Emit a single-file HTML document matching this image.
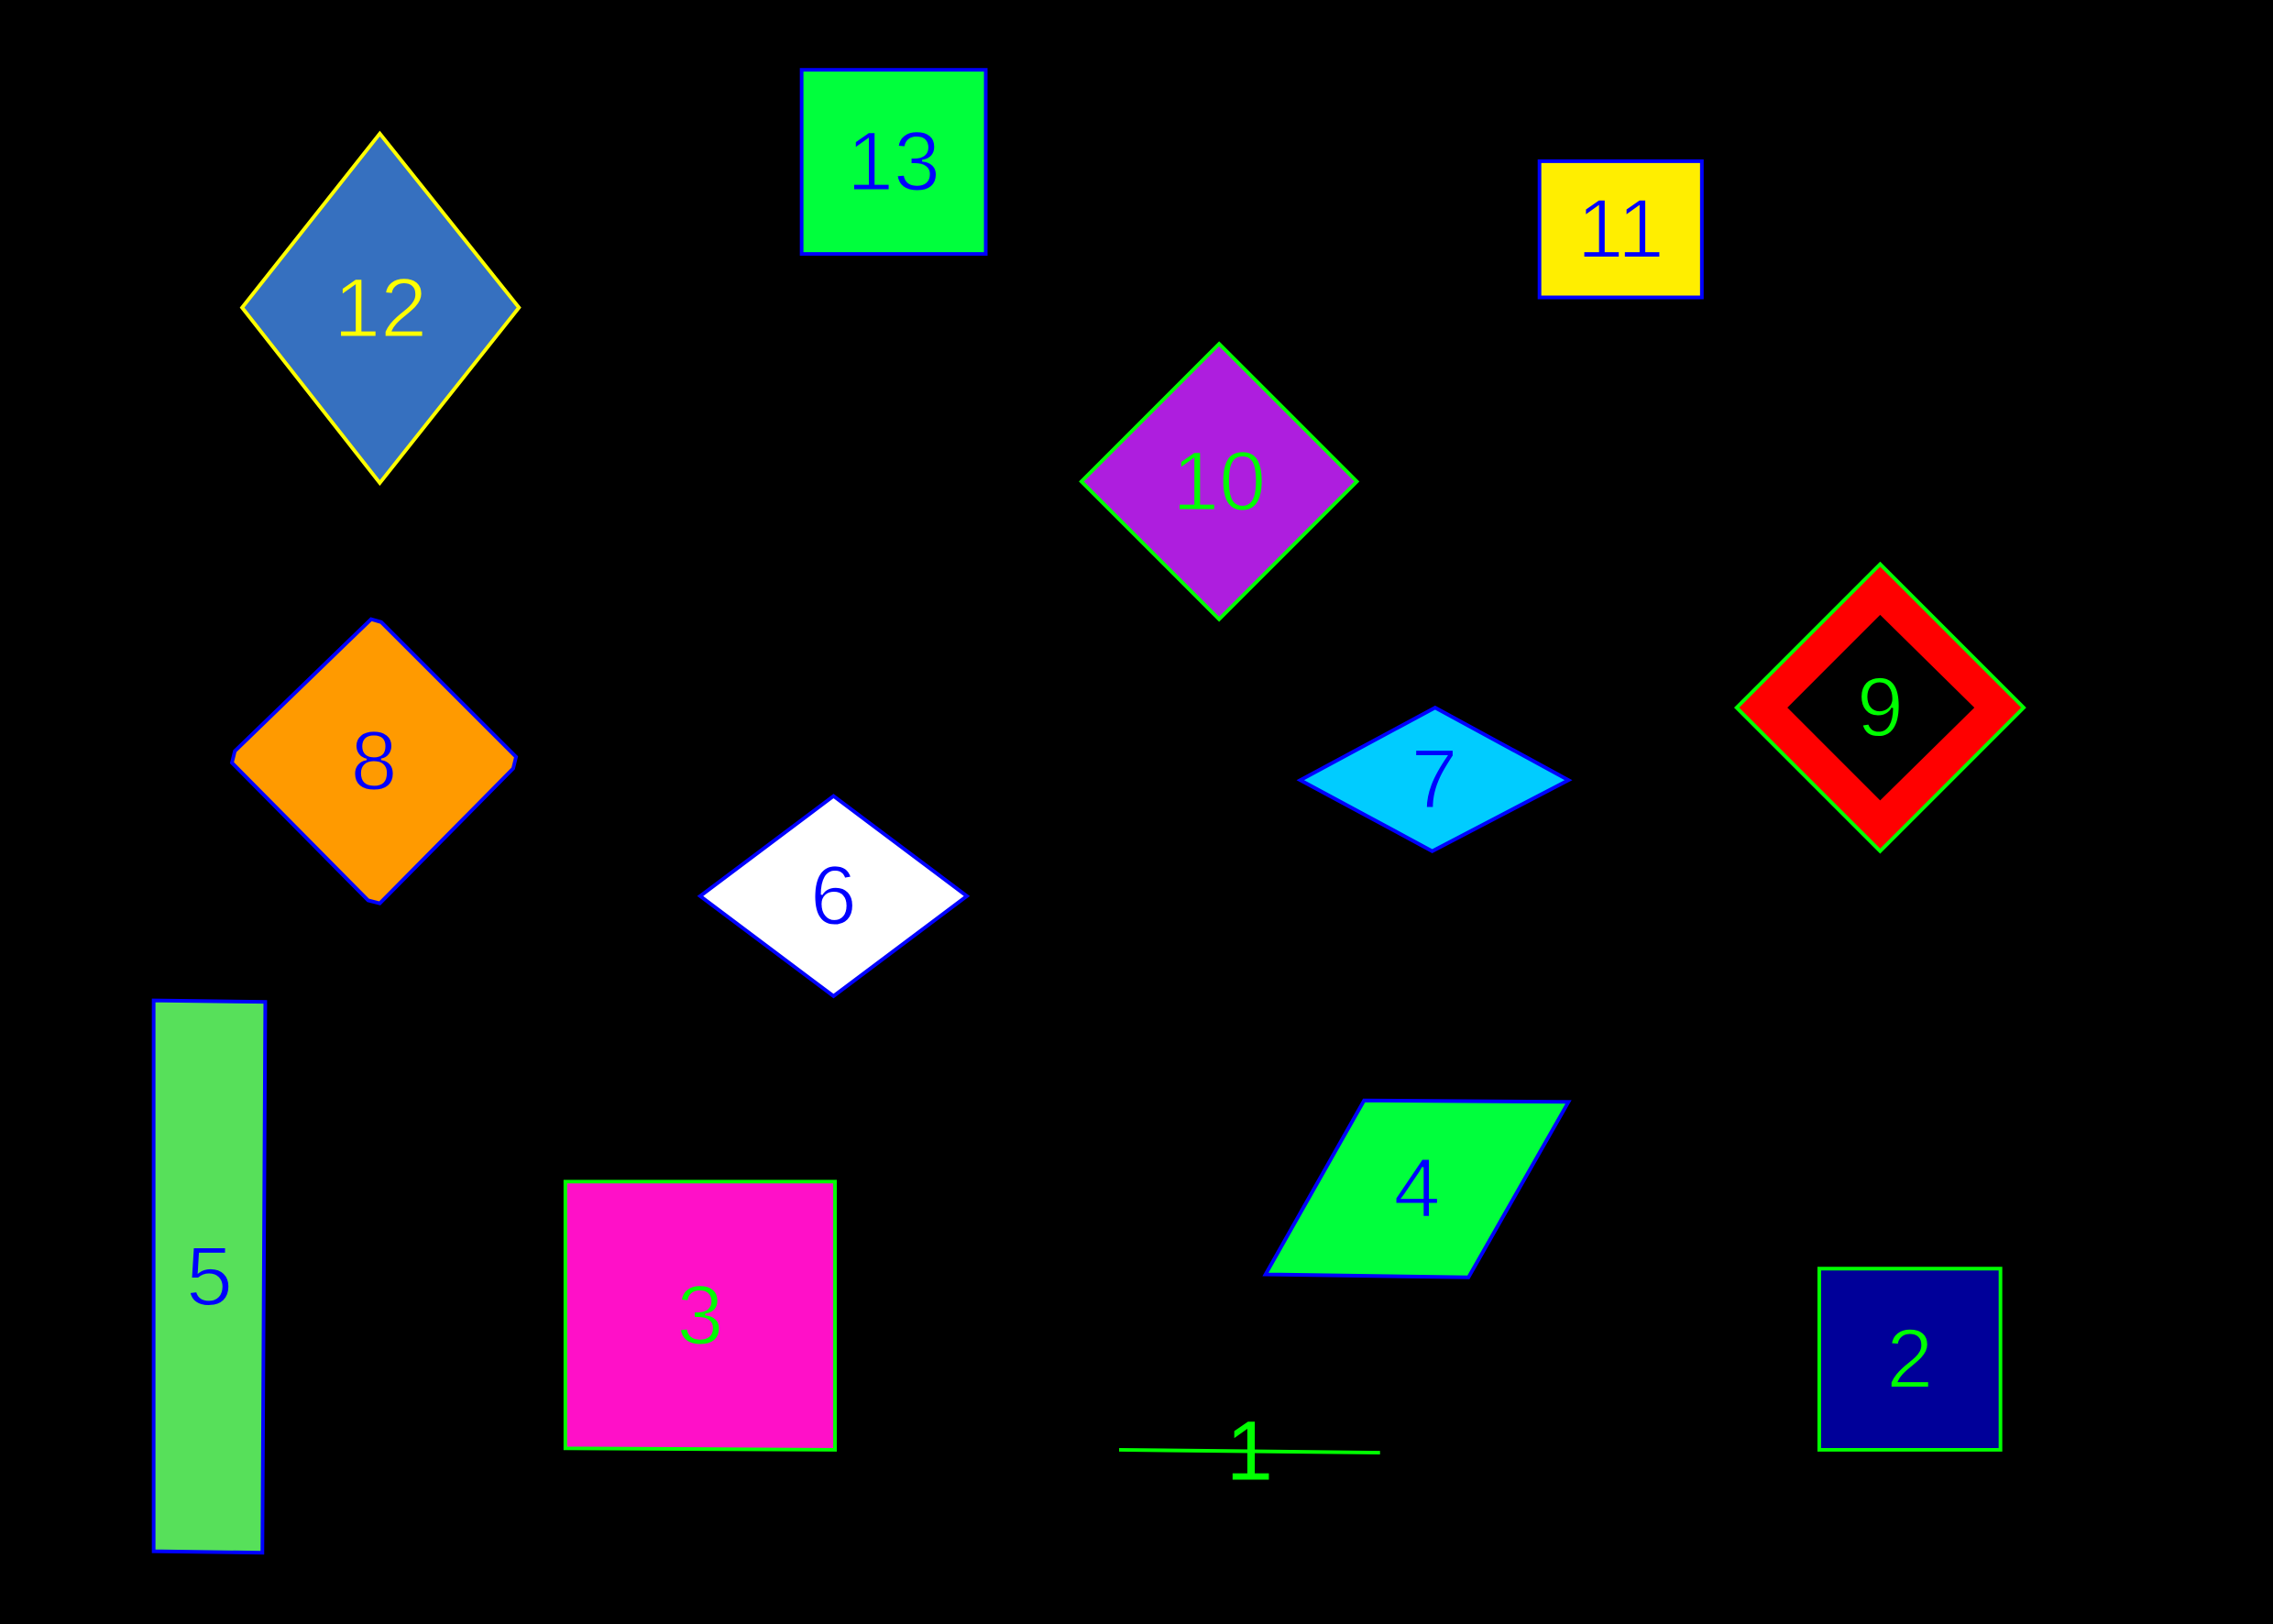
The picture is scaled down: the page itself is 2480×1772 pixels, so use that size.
<!DOCTYPE html>
<html><head><meta charset="utf-8"><style>
html,body{margin:0;padding:0;background:#000;}
svg{display:block;}
text{font-family:"Liberation Sans",sans-serif;font-weight:300;text-anchor:middle;dominant-baseline:central;}
</style></head><body>
<svg id="c" width="2480" height="1772" viewBox="0 0 1568 1120" xmlns="http://www.w3.org/2000/svg">
<rect x="0" y="0" width="1568" height="1120" fill="#000"/>
</svg>
<script>
const labels = ["13","11","12","10","8","9","7","6","5","3","4","2"];
const fills = ["#00ff3c","#ffee00","#3670bf","#ae1ede","#ff9a00","#ff0000","#00ccff","#ffffff","#57e05a","#ff10c8","#00ff3c","#000099"];
const strokes = ["#0000ff","#0000ff","#ffff00","#00ff00","#0000ff","#00ff00","#0000ff","#0000ff","#0000ff","#00ff00","#0000ff","#00ff00"];
const textColors = ["#0000ff","#0000ff","#ffff00","#00ff00","#0000ff","#00ff00","#0000ff","#0000ff","#0000ff","#00ff00","#0000ff","#00ff00"];
const textBg = ["#00ff3c","#ffee00","#3670bf","#ae1ede","#ff9a00","#000000","#00ccff","#ffffff","#57e05a","#ff10c8","#00ff3c","#000099"];
const shapePoints = [
 [[553,48],[680,48],[680,175],[553,175]],
 [[1062,111],[1174,111],[1174,205],[1062,205]],
 [[262,92],[358,212],[262,333],[167,212]],
 [[841,237],[936,332],[841,427],[746,332]],
 [[256,427],[263,429],[356,522],[354,530],[262,623],[254,621],[160,526],[162,518]],
 [[1297,389],[1396,488],[1297,587],[1198,488]],
 [[990,488],[1082,538],[988,587],[897,538]],
 [[575,549],[667,618],[575,687],[483,618]],
 [[106,690],[183,691],[181,1071],[106,1070]],
 [[390,815],[576,815],[576,1000],[390,999]],
 [[941,759],[1082,760],[1013,881],[873,879]],
 [[1255,875],[1380,875],[1380,1000],[1255,1000]]
];
const innerHole = [[1297,424],[1362,488],[1297,552],[1233,488]];
const lineSeg = [[772,1000],[952,1002]];
const NS="http://www.w3.org/2000/svg";
const svg=document.getElementById('c');
function pts(a){return a.map(p=>p.join(',')).join(' ');}
function center(a){let xs=a.map(p=>p[0]),ys=a.map(p=>p[1]);return[(Math.min(...xs)+Math.max(...xs))/2,(Math.min(...ys)+Math.max(...ys))/2];}
labels.forEach((lab,i)=>{
  const g=document.createElementNS(NS,'g');
  
  
  const p=document.createElementNS(NS,'polygon');
  p.setAttribute('points',pts(shapePoints[i]));
  p.setAttribute('fill',fills[i]);p.setAttribute('stroke',strokes[i]);p.setAttribute('stroke-width','2.5');
  g.appendChild(p);
  if(lab==="9"){
    const h=document.createElementNS(NS,'polygon');
    h.setAttribute('points',pts(innerHole));
    h.setAttribute('fill','#000');
    g.appendChild(h);
  }
  const c=center(shapePoints[i]);
  const t=document.createElementNS(NS,'text');
  
  
  t.setAttribute('x',c[0]);t.setAttribute('y',c[1]);
  t.setAttribute('font-size','58');t.setAttribute('fill',textColors[i]);
  t.setAttribute('stroke',textBg[i]);t.setAttribute('stroke-width','1.2');
  t.textContent=lab;
  g.appendChild(t);
  svg.appendChild(g);
});
const g1=document.createElementNS(NS,'g');


const l=document.createElementNS(NS,'line');
l.setAttribute('x1',lineSeg[0][0]);l.setAttribute('y1',lineSeg[0][1]);
l.setAttribute('x2',lineSeg[1][0]);l.setAttribute('y2',lineSeg[1][1]);
l.setAttribute('stroke','#00ff00');l.setAttribute('stroke-width','2.5');
g1.appendChild(l);
const t1=document.createElementNS(NS,'text');


t1.setAttribute('x',(lineSeg[0][0]+lineSeg[1][0])/2);t1.setAttribute('y',(lineSeg[0][1]+lineSeg[1][1])/2);
t1.setAttribute('font-size','58');t1.setAttribute('fill','#00ff00');
t1.textContent='1';
g1.appendChild(t1);
svg.appendChild(g1);
</script>
</body></html>
